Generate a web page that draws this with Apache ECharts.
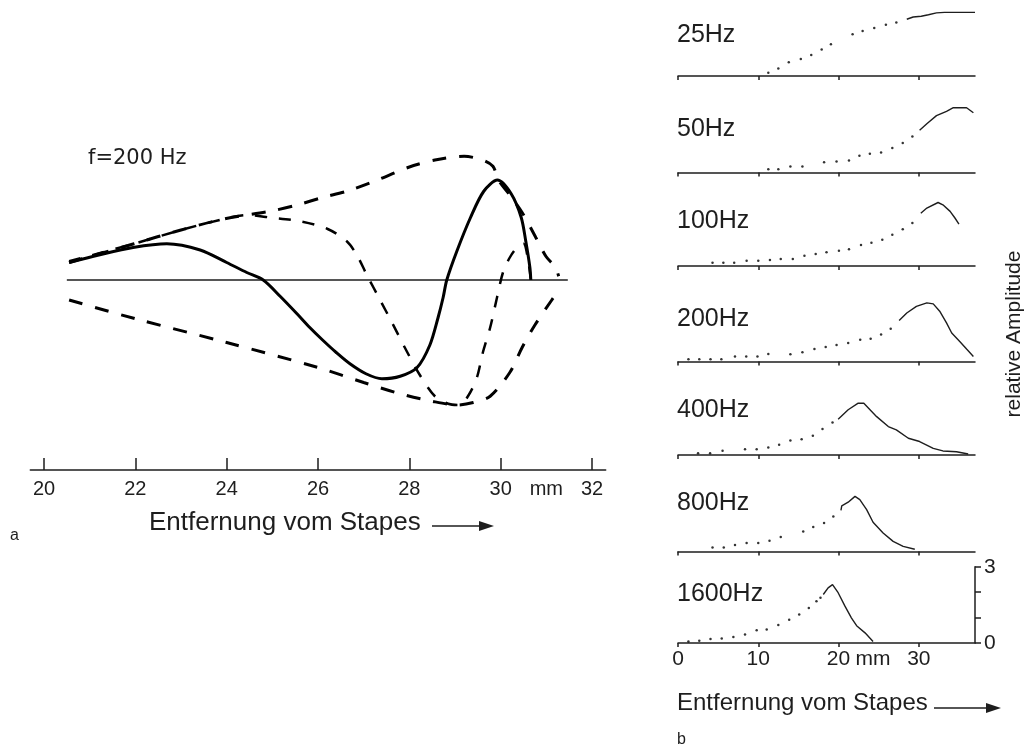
<!DOCTYPE html>
<html>
<head>
<meta charset="utf-8">
<script src="https://cdn.jsdelivr.net/npm/echarts@6.0.0/dist/echarts.min.js"></script>
<style>
  html, body { margin: 0; padding: 0; background: #fff; }
  #main { width: 1024px; height: 749px; }
</style>
</head>
<body>
<div id="main"></div>
<script>
// ---- panel a: travelling wave, f = 200 Hz (mm from stapes, relative displacement)
const aTicks = [20, 22, 24, 26, 28, 30, 32];
const zeroLine = [[20.5, 0], [31.47, 0]];
const envUpper = [[20.55,0.14],[21.97,0.29],[23.0,0.4],[23.96,0.49],[24.95,0.55],[25.54,0.6],[26.1,0.66],[26.63,0.71],[27.3,0.8],[27.97,0.9],[28.56,0.96],[29.2,0.99],[29.6,0.96],[29.83,0.91],[29.95,0.8],[30.2,0.68],[30.47,0.54],[30.77,0.34],[30.99,0.19],[31.2,0.1],[31.27,0.03]];
const envLower = [[20.55,-0.16],[22.0,-0.31],[24.0,-0.5],[26.0,-0.7],[27.0,-0.82],[27.8,-0.91],[28.5,-0.97],[29.05,-1.0],[29.4,-0.98],[29.77,-0.93],[30.2,-0.74],[30.47,-0.54],[30.75,-0.36],[31.12,-0.16],[31.3,-0.07]];
const waveSolid = [[20.55,0.14],[21.2,0.2],[21.95,0.26],[22.69,0.29],[23.42,0.24],[24.0,0.14],[24.44,0.06],[24.8,0],[25.17,-0.13],[25.54,-0.27],[25.82,-0.38],[26.1,-0.48],[26.4,-0.58],[26.7,-0.67],[27.05,-0.75],[27.4,-0.79],[27.8,-0.77],[28.17,-0.7],[28.45,-0.52],[28.63,-0.3],[28.74,-0.14],[28.82,0],[29.04,0.23],[29.34,0.5],[29.63,0.71],[29.93,0.8],[30.23,0.69],[30.45,0.5],[30.55,0.31],[30.64,0.1],[30.66,0]];
const waveDashed = [[20.55,0.15],[21.97,0.29],[23.0,0.4],[23.96,0.49],[24.45,0.52],[24.95,0.5],[25.6,0.47],[26.2,0.41],[26.63,0.31],[26.85,0.2],[27.07,0.04],[27.36,-0.16],[27.62,-0.34],[27.9,-0.54],[28.23,-0.76],[28.56,-0.93],[28.85,-0.99],[29.1,-1.0],[29.3,-0.92],[29.48,-0.78],[29.61,-0.58],[29.77,-0.38],[29.92,-0.14],[30.05,0.06],[30.2,0.18],[30.36,0.26],[30.5,0.29],[30.6,0.16],[30.66,0]];

// ---- panel b: relative amplitude along the cochlea for several frequencies
const freqNames = ['25Hz', '50Hz', '100Hz', '200Hz', '400Hz', '800Hz', '1600Hz'];
const bTicks = [0, 10, 20, 30];
const dots25 = [[11.25,0.13],[12.5,0.3],[13.8,0.54],[15.3,0.67],[16.6,0.83],[17.9,1.05],[19.05,1.25],[21.75,1.65],[23.0,1.78],[24.45,1.89],[25.9,2.02],[27.2,2.11]];
const line25 = [[28.5,2.24],[29.3,2.33],[30.3,2.36],[31.2,2.42],[32.2,2.49],[33.2,2.51],[37,2.51]];
const dots50 = [[11.25,0.13],[12.5,0.13],[14.0,0.24],[15.5,0.24],[18.2,0.4],[19.75,0.43],[21.3,0.47],[22.6,0.66],[23.9,0.74],[25.3,0.79],[26.7,0.96],[28.0,1.16],[29.2,1.42]];
const line50 = [[30.1,1.66],[31.0,1.92],[32.2,2.24],[33.45,2.41],[34.3,2.55],[35.95,2.55],[36.8,2.35]];
const dots100 = [[4.3,0.13],[5.65,0.13],[7.0,0.13],[8.55,0.21],[10.0,0.21],[11.45,0.24],[12.8,0.28],[14.3,0.28],[15.75,0.4],[17.15,0.47],[18.5,0.54],[20.05,0.6],[21.3,0.66],[22.8,0.83],[24.1,0.92],[25.45,1.03],[26.7,1.23],[28.0,1.45],[29.2,1.69]];
const line100 = [[30.25,2.08],[31.0,2.28],[32.4,2.5],[33.0,2.41],[33.9,2.15],[34.5,1.89],[35.0,1.65]];
const dots200 = [[1.3,0.09],[2.65,0.09],[4.05,0.09],[5.4,0.09],[7.1,0.2],[8.5,0.2],[9.9,0.2],[11.25,0.3],[14.0,0.29],[15.5,0.36],[17.0,0.49],[18.4,0.57],[19.75,0.65],[21.2,0.73],[22.7,0.86],[24.0,0.9],[25.3,1.06],[26.5,1.29]];
const line200 = [[27.55,1.61],[28.5,1.91],[29.7,2.17],[31.0,2.31],[31.8,2.27],[32.6,1.98],[33.45,1.52],[34.1,1.12],[35.1,0.79],[35.95,0.49],[36.8,0.2]];
const dots400 = [[2.5,0.07],[4.0,0.07],[5.55,0.17],[8.35,0.23],[9.8,0.23],[11.25,0.3],[12.6,0.4],[14.0,0.57],[15.4,0.62],[16.8,0.76],[18.0,1.02],[19.25,1.28]];
const line400 = [[19.95,1.41],[21.2,1.78],[22.45,2.04],[23.15,2.04],[24.75,1.51],[26.2,1.12],[27.2,0.99],[28.7,0.66],[30.1,0.53],[31.8,0.26],[33.0,0.16],[34.7,0.13],[36.15,0.04]];
const dots800 = [[4.3,0.16],[5.7,0.16],[7.1,0.26],[8.55,0.33],[10.0,0.33],[11.4,0.42],[12.8,0.57],[15.6,0.79],[16.85,0.96],[18.2,1.12],[19.35,1.38]];
const line800 = [[20.3,1.62],[20.4,1.8],[21.2,1.94],[22.05,2.17],[22.65,2.04],[23.5,1.65],[24.3,1.15],[25.55,0.73],[26.8,0.4],[28.05,0.2],[29.5,0.09]];
const dots1600 = [[1.3,0.06],[2.65,0.09],[4.05,0.16],[5.45,0.18],[6.9,0.24],[8.35,0.33],[9.8,0.5],[11.05,0.53],[12.5,0.71],[13.85,0.92],[15.1,1.12],[16.3,1.38],[17.25,1.64],[17.75,1.78]];
const line1600 = [[18.1,1.91],[18.7,2.17],[19.25,2.3],[19.95,1.98],[20.8,1.45],[21.6,0.99],[22.25,0.68],[23.3,0.4],[24.3,0.06]];

const bDots = [dots25, dots50, dots100, dots200, dots400, dots800, dots1600];
const bLines = [line25, line50, line100, line200, line400, line800, line1600];

// layout of the small panels (baseline y in px, label centre y)
const bBase = [76, 172.5, 266, 361.5, 455, 551.5, 643];
const bLabelY = [35, 129, 221.5, 319.5, 410, 503.5, 594];

const FONT = '"Liberation Sans", Arial, sans-serif';
const WIDE = '"DejaVu Sans", sans-serif';
const INK = '#1e1e1e';

const myChart = echarts.init(document.getElementById('main'));

const grid = [{ left: 30.3, top: 90, width: 575.4, height: 380 }];
const xAxis = [{
  type: 'value', gridIndex: 0, min: 19.7, max: 32.3,
  splitLine: { show: false },
  axisLine: { onZero: false, lineStyle: { color: INK, width: 1.5 } },
  axisTick: { inside: true, length: 12, customValues: aTicks, lineStyle: { color: INK, width: 1.5 } },
  axisLabel: {
    customValues: aTicks.concat([31]), margin: 9,
    color: INK, fontFamily: FONT, fontSize: 20,
    formatter: function (v) { return v === 31 ? 'mm' : String(v); }
  }
}];
const yAxis = [{ type: 'value', gridIndex: 0, min: -1.52, max: 1.52, show: false }];

const series = [
  { type: 'line', xAxisIndex: 0, yAxisIndex: 0, data: zeroLine, showSymbol: false,
    lineStyle: { color: INK, width: 1.5 } },
  { type: 'line', xAxisIndex: 0, yAxisIndex: 0, data: envUpper, showSymbol: false, smooth: 0.3,
    lineStyle: { color: '#000', width: 3, type: [14, 13] } },
  { type: 'line', xAxisIndex: 0, yAxisIndex: 0, data: envLower, showSymbol: false, smooth: 0.3,
    lineStyle: { color: '#000', width: 3, type: [14, 13] } },
  { type: 'line', xAxisIndex: 0, yAxisIndex: 0, data: waveDashed, showSymbol: false, smooth: 0.3,
    lineStyle: { color: '#000', width: 2.5, type: [12, 12] } },
  { type: 'line', xAxisIndex: 0, yAxisIndex: 0, data: waveSolid, showSymbol: false, smooth: 0.3,
    lineStyle: { color: '#000', width: 3 } }
];

for (let i = 0; i < freqNames.length; i++) {
  const gi = i + 1;
  const last = i === freqNames.length - 1;
  grid.push({ left: 678, width: 297, top: bBase[i] - 76.2, height: 76.2 });
  xAxis.push({
    type: 'value', gridIndex: gi, min: 0, max: 37,
    splitLine: { show: false },
    axisLine: { onZero: false, lineStyle: { color: INK, width: 1.5 } },
    axisTick: { length: 4, customValues: bTicks, lineStyle: { color: INK, width: 1.5 } },
    axisLabel: {
      show: last, customValues: bTicks.concat([24.3]), margin: 6,
      color: INK, fontFamily: FONT, fontSize: 21,
      formatter: function (v) { return v === 24.3 ? 'mm' : String(v); }
    }
  });
  yAxis.push({
    type: 'value', gridIndex: gi, min: 0, max: 3, interval: 1, show: last, position: 'right',
    splitLine: { show: false },
    axisLine: { show: true, onZero: false, lineStyle: { color: INK, width: 1.5 } },
    axisTick: { length: 6, lineStyle: { color: INK, width: 1.5 } },
    axisLabel: {
      margin: 9, color: INK, fontFamily: FONT, fontSize: 21,
      formatter: function (v) { return (v === 0 || v === 3) ? String(v) : ''; }
    }
  });
  series.push({
    type: 'scatter', xAxisIndex: gi, yAxisIndex: gi, data: bDots[i],
    symbolSize: 2.5, itemStyle: { color: '#000' }
  });
  series.push({
    type: 'line', xAxisIndex: gi, yAxisIndex: gi, data: bLines[i], showSymbol: false,
    lineStyle: { color: INK, width: 1.4 }
  });
}

const graphic = [
  { type: 'text', x: 88, y: 159, style: { text: 'f=200 Hz', fill: INK, font: '21px ' + WIDE, textVerticalAlign: 'middle' } },
  { type: 'text', x: 149, y: 523, style: { text: 'Entfernung vom Stapes', fill: INK, font: '26px ' + FONT, textVerticalAlign: 'middle' } },
  { type: 'line', shape: { x1: 432, y1: 526, x2: 482, y2: 526 }, style: { stroke: INK, lineWidth: 1.5 } },
  { type: 'polygon', shape: { points: [[479, 521], [494, 526], [479, 531]] }, style: { fill: INK } },
  { type: 'text', x: 10, y: 536, style: { text: 'a', fill: INK, font: '16px ' + FONT, textVerticalAlign: 'middle' } },
  { type: 'text', x: 677, y: 703, style: { text: 'Entfernung vom Stapes', fill: INK, font: '24px ' + FONT, textVerticalAlign: 'middle' } },
  { type: 'line', shape: { x1: 934, y1: 708, x2: 990, y2: 708 }, style: { stroke: INK, lineWidth: 1.5 } },
  { type: 'polygon', shape: { points: [[986, 703], [1001, 708], [986, 713]] }, style: { fill: INK } },
  { type: 'text', x: 677, y: 740, style: { text: 'b', fill: INK, font: '16px ' + FONT, textVerticalAlign: 'middle' } },
  { type: 'text', x: 1014, y: 334, rotation: Math.PI / 2,
    style: { text: 'relative Amplitude', fill: INK, font: '21px ' + FONT, textAlign: 'center', textVerticalAlign: 'middle' } }
];
for (let i = 0; i < freqNames.length; i++) {
  graphic.push({ type: 'text', x: 677, y: bLabelY[i],
    style: { text: freqNames[i], fill: INK, font: '25px ' + FONT, textVerticalAlign: 'middle' } });
}

const option = {
  animation: false,
  backgroundColor: '#fff',
  grid: grid,
  xAxis: xAxis,
  yAxis: yAxis,
  series: series,
  graphic: graphic
};
myChart.setOption(option);
</script>
</body>
</html>
